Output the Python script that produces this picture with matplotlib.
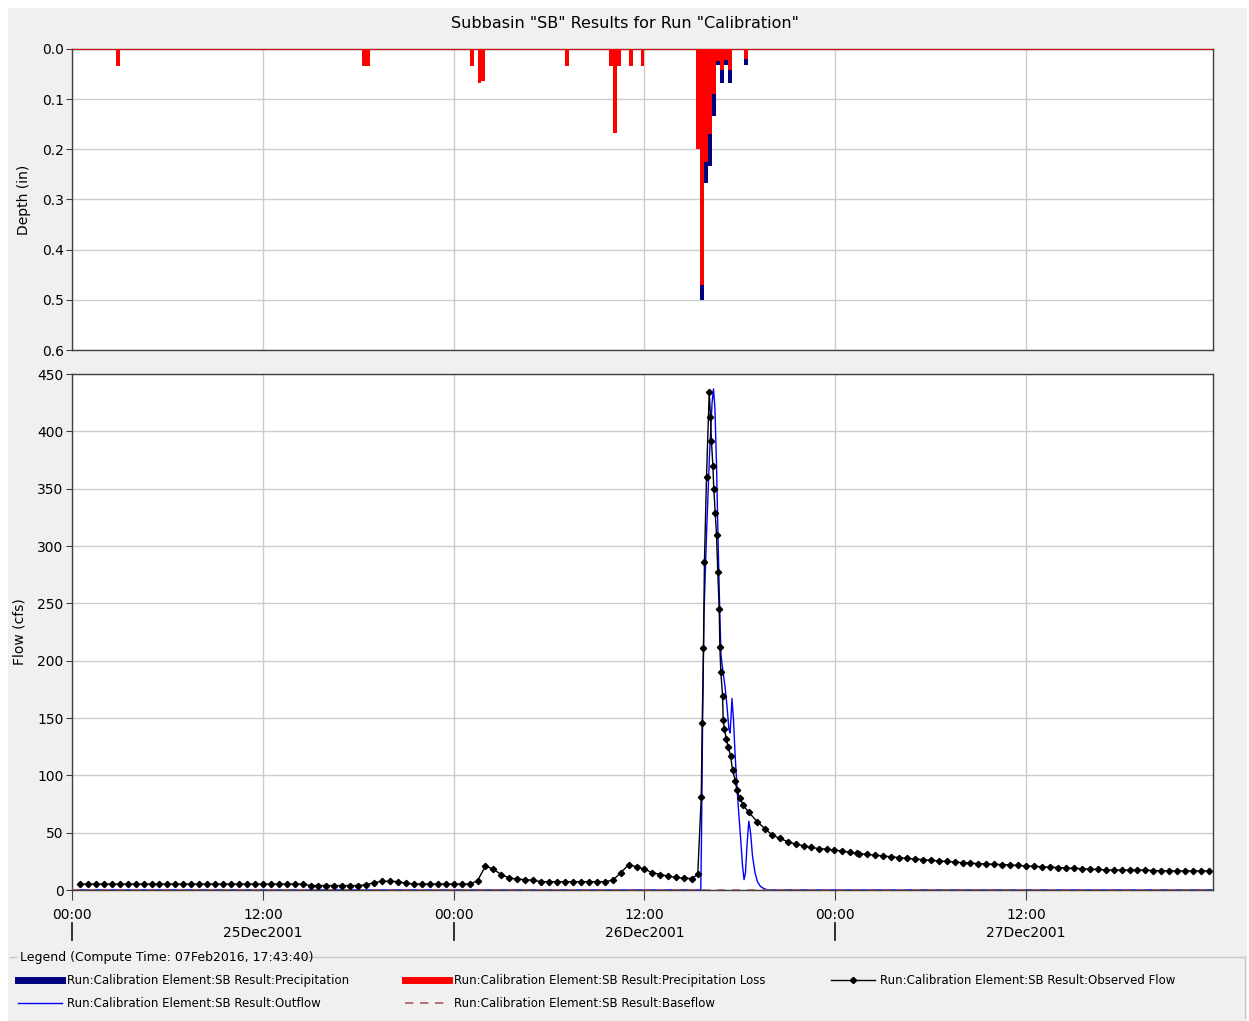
# Subbasin "SB" results for run "Calibration" - precip hyetograph over flow hydrograph

import matplotlib
matplotlib.use("Agg")
import matplotlib.pyplot as plt
from matplotlib.lines import Line2D
from matplotlib.patches import Rectangle
import matplotlib.transforms as mtransforms

plt.rcParams['font.family'] = ['DejaVu Sans']

# hours after 25Dec2001 00:00
x_end = 71.75
time_ticks = [0, 12, 24, 36, 48, 60]
time_labels = ["00:00", "12:00", "00:00", "12:00", "00:00", "12:00"]
day_breaks = [0, 24, 48]
day_mids = [12, 36, 60]
day_labels = ["25Dec2001", "26Dec2001", "27Dec2001"]

# 15 minute precipitation blocks (in)
bar_start = [2.75, 18.25, 18.5, 25.0, 25.5, 25.75, 31.0, 33.75, 34.0, 34.25, 35.0, 35.75,
             39.25, 39.5, 39.75, 40.0, 40.25, 40.5, 40.75, 41.0, 41.25, 42.25]
precip = [0.033, 0.033, 0.033, 0.033, 0.067, 0.063, 0.033, 0.033, 0.167, 0.033, 0.033, 0.033,
          0.2, 0.5, 0.267, 0.233, 0.133, 0.031, 0.067, 0.031, 0.067, 0.031]
precip_loss = [0.033, 0.033, 0.033, 0.033, 0.067, 0.063, 0.033, 0.033, 0.167, 0.033, 0.033, 0.033,
               0.2, 0.47, 0.225, 0.17, 0.09, 0.023, 0.041, 0.021, 0.041, 0.02]

# observed flow (cfs)
obs_hours = [0.5, 1.0, 1.5, 2.0, 2.5, 3.0, 3.5, 4.0, 4.5, 5.0, 5.5, 6.0,
             6.5, 7.0, 7.5, 8.0, 8.5, 9.0, 9.5, 10.0, 10.5, 11.0, 11.5, 12.0,
             12.5, 13.0, 13.5, 14.0, 14.5, 15.0, 15.5, 16.0, 16.5, 17.0, 17.5, 18.0,
             18.5, 19.0, 19.5, 20.0, 20.5, 21.0, 21.5, 22.0, 22.5, 23.0, 23.5, 24.0,
             24.5, 25.0, 25.5, 26.0, 26.5, 27.0, 27.5, 28.0, 28.5, 29.0, 29.5, 30.0,
             30.5, 31.0, 31.5, 32.0, 32.5, 33.0, 33.5, 34.0, 34.5, 35.0, 35.5, 36.0,
             36.5, 37.0, 37.5, 38.0, 38.5, 39.0, 39.35,
             39.57, 39.63, 39.71, 39.77, 39.90, 40.07, 40.15, 40.21, 40.30, 40.36, 40.45,
             40.53, 40.61, 40.70, 40.74, 40.80, 40.91, 40.95, 41.03, 41.14, 41.26, 41.41,
             41.54, 41.71, 41.81, 42.00, 42.21, 42.56, 43.09, 43.59, 44.03, 44.51, 45.02,
             45.50, 46.02, 46.49, 46.97, 47.45, 47.91, 48.44, 48.92, 49.38,
             49.5, 50.0, 50.5, 51.0, 51.5, 52.0, 52.5, 53.0, 53.5, 54.0, 54.5, 55.0,
             55.5, 56.0, 56.5, 57.0, 57.5, 58.0, 58.5, 59.0, 59.5, 60.0, 60.5, 61.0,
             61.5, 62.0, 62.5, 63.0, 63.5, 64.0, 64.5, 65.0, 65.5, 66.0, 66.5, 67.0,
             67.5, 68.0, 68.5, 69.0, 69.5, 70.0, 70.5, 71.0, 71.5]
obs_flow = [5.2, 5.2, 5.2, 5.2, 5.2, 5.2, 5.2, 5.2, 5.2, 5.2, 5.2, 5.2,
            5.2, 5.2, 5.2, 5.2, 5.2, 5.2, 5.2, 5.2, 5.2, 5.2, 5.2, 5.2,
            5.2, 5.2, 5.2, 5.2, 5.2, 3.9, 3.9, 3.9, 3.9, 3.9, 3.9, 3.9,
            4.5, 6.5, 7.6, 7.6, 7.3, 6.0, 5.2, 5.2, 5.2, 5.2, 5.2, 5.2,
            5.2, 5.2, 8.0, 21.0, 18.0, 13.5, 10.5, 9.6, 9.0, 8.5, 7.3, 7.3,
            7.3, 7.3, 7.3, 7.3, 7.3, 7.3, 7.3, 8.5, 15.0, 22.0, 20.3, 18.0,
            15.2, 13.5, 12.0, 11.0, 10.2, 10.0, 13.7,
            81.4, 146, 211, 285.8, 359.9, 434.5, 412.7, 391.5, 369.7, 349.4, 328.5,
            309.6, 277, 244.8, 212, 190.4, 169, 148, 140, 132, 125, 117,
            104.6, 95.3, 87, 80, 74, 67.7, 59.6, 53.2, 48, 45, 42.1,
            40.1, 38.6, 37.2, 36, 35.7, 34.9, 34, 32.9, 32,
            31.8, 31.0, 30.4, 29.7, 29.0, 28.3, 27.6, 27.0, 26.5, 25.9, 25.4, 24.9,
            24.4, 23.9, 23.4, 23.0, 22.7, 22.4, 22.2, 21.9, 21.4, 21.0, 20.6, 20.3,
            19.9, 19.6, 19.2, 18.9, 18.6, 18.2, 17.9, 17.5, 17.4, 17.4, 17.4, 17.4,
            17.3, 17.0, 16.8, 16.7, 16.6, 16.6, 16.6, 16.6, 16.6]

# simulated outflow (cfs)
out_hours = [0, 39.54, 39.58, 39.65, 39.74, 39.90, 40.09, 40.25, 40.34, 40.43, 40.53,
             40.62, 40.72, 40.81, 40.94, 41.06, 41.19, 41.31, 41.38, 41.44, 41.50,
             41.60, 41.69, 41.79, 41.91, 42.04, 42.16, 42.26, 42.35, 42.45, 42.56,
             42.67, 42.79, 42.95, 43.11, 43.30, 43.55, 43.80, 71.75]
outflow = [0, 0, 40, 140, 240, 310, 380, 425, 437, 420, 370,
           310, 250, 205, 190, 178, 160, 140, 137, 150, 167,
           148, 120, 96, 70, 46, 22, 9, 15, 40, 60,
           50, 30, 15, 7, 3, 1, 0, 0]

# baseflow (cfs)
base_hours = [0, 71.75]
baseflow = [0, 0]

W, H = 1249, 1021
fig = plt.figure(figsize=(W / 100, H / 100), dpi=100, facecolor="white")
fig.patches.append(Rectangle((8 / W, 0), 1239 / W, 1013 / H, transform=fig.transFigure,
                             facecolor="#f0f0f0", edgecolor="none", zorder=-5))

left = 72 / W
width = (1213 - 72) / W
ax1 = fig.add_axes([left, 1 - 350 / H, width, 301 / H])
ax2 = fig.add_axes([left, 1 - 890 / H, width, 516 / H])

grid_col = "#cccccc"
spine_col = "#404040"

for ax in (ax1, ax2):
    ax.set_facecolor("white")
    ax.set_xlim(0, x_end)
    ax.set_xticks(time_ticks)
    ax.grid(True, color=grid_col, linewidth=1)
    ax.set_axisbelow(True)
    for s in ax.spines.values():
        s.set_color(spine_col)
        s.set_linewidth(1)
    ax.tick_params(axis="y", labelsize=10, length=4, color=spine_col, pad=2)

# precipitation panel
ax1.bar(bar_start, precip, width=0.25, align="edge", color="#000080", linewidth=0, zorder=2)
ax1.bar(bar_start, precip_loss, width=0.25, align="edge", color="#ff0000", linewidth=0, zorder=3)
ax1.axhline(0, color="#ff0000", linewidth=1.2, zorder=4)
ax1.set_ylim(0.6, 0)
ax1.set_yticks([0.0, 0.1, 0.2, 0.3, 0.4, 0.5, 0.6])
ax1.set_yticklabels(["0.0", "0.1", "0.2", "0.3", "0.4", "0.5", "0.6"])
ax1.tick_params(axis="x", length=0, labelbottom=False)
ax1.set_ylabel("Depth (in)", fontsize=10, labelpad=8)

# flow panel
ax2.plot(out_hours, outflow, color="#0000ff", linewidth=1, zorder=3)
ax2.plot(base_hours, baseflow, color="#b05a5a", linewidth=1.2, linestyle=(0, (5, 4)), zorder=4)
ax2.plot(obs_hours, obs_flow, color="black", linewidth=1, marker="D", markersize=3.2, zorder=5)
ax2.set_ylim(0, 450)
ax2.set_yticks(range(0, 451, 50))
ax2.set_xticklabels(time_labels)
ax2.tick_params(axis="x", labelsize=10, length=7, color=spine_col, pad=6)
ax2.set_ylabel("Flow (cfs)", fontsize=10, labelpad=8)

# date row under the time labels
trans = mtransforms.blended_transform_factory(ax2.transData, ax2.transAxes)
for d in day_breaks:
    ax2.plot([d, d], [-0.064, -0.097], color="#202020", linewidth=1.3, transform=trans, clip_on=False)
for d, lab in zip(day_mids, day_labels):
    ax2.text(d, -0.083, lab, transform=trans, ha="center", va="center", fontsize=10)

fig.text(0.5, 1 - 24 / H, 'Subbasin "SB" Results for Run "Calibration"', ha="center", va="center", fontsize=11.5)

# legend block
fig.add_artist(Line2D([300 / W, 1245 / W], [1 - 957 / H, 1 - 957 / H], transform=fig.transFigure,
                      color="#c8c8c8", linewidth=1))
fig.add_artist(Line2D([1245 / W, 1245 / W], [1 - 957 / H, 1 - 1018 / H], transform=fig.transFigure,
                      color="#c8c8c8", linewidth=1))
fig.add_artist(Line2D([10 / W, 16 / W], [1 - 957 / H, 1 - 957 / H], transform=fig.transFigure,
                      color="#c8c8c8", linewidth=1))
fig.text(20 / W, 1 - 957 / H, "Legend (Compute Time: 07Feb2016, 17:43:40)", ha="left", va="center", fontsize=9)

legend_items = [
    (18, 980, dict(color="#000080", linewidth=5), "Run:Calibration Element:SB Result:Precipitation"),
    (405, 980, dict(color="#ff0000", linewidth=5), "Run:Calibration Element:SB Result:Precipitation Loss"),
    (831, 980, dict(color="black", linewidth=1, marker="D", markersize=3.2, markevery=[1]),
     "Run:Calibration Element:SB Result:Observed Flow"),
    (18, 1003, dict(color="#0000ff", linewidth=1), "Run:Calibration Element:SB Result:Outflow"),
    (405, 1003, dict(color="#b05a5a", linewidth=1.2, linestyle=(0, (5, 4))),
     "Run:Calibration Element:SB Result:Baseflow"),
]
for lx, ly, style, label in legend_items:
    yy = 1 - ly / H
    fig.add_artist(Line2D([lx / W, (lx + 22) / W, (lx + 44) / W], [yy, yy, yy],
                          transform=fig.transFigure, **style))
    fig.text((lx + 49) / W, yy, label, ha="left", va="center", fontsize=8.5)

fig.savefig("out.png", dpi=100, facecolor=fig.get_facecolor())
